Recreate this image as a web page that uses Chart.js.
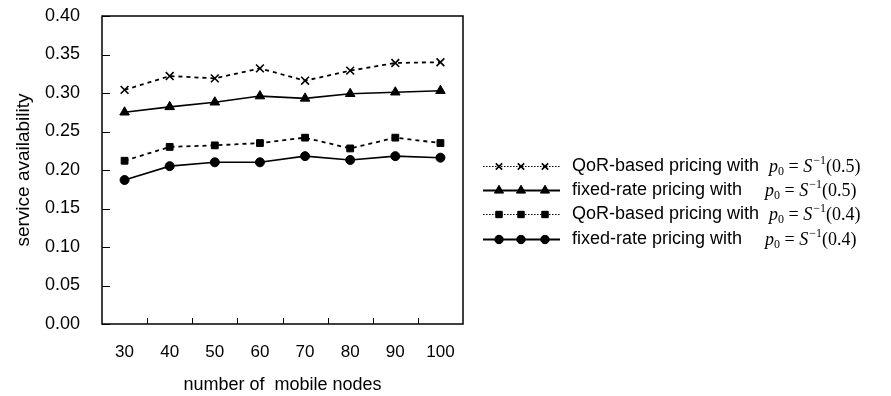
<!DOCTYPE html>
<html>
<head>
<meta charset="utf-8">
<script src="https://cdn.jsdelivr.net/npm/chart.js@4/dist/chart.umd.min.js"></script>
<style>
html,body{margin:0;padding:0;background:#fff;}
#wrap{position:relative;width:891px;height:396px;}
</style>
</head>
<body>
<div id="wrap"><canvas id="c" width="891" height="396"></canvas></div>
<script>
const categories = ['30','40','50','60','70','80','90','100'];
const qor05   = [0.304, 0.322, 0.319, 0.332, 0.316, 0.329, 0.339, 0.340];
const fixed05 = [0.275, 0.282, 0.288, 0.296, 0.293, 0.299, 0.301, 0.303];
const qor04   = [0.212, 0.230, 0.232, 0.235, 0.242, 0.228, 0.242, 0.235];
const fixed04 = [0.187, 0.205, 0.210, 0.210, 0.218, 0.213, 0.218, 0.216];
const seriesNames = ['QoR-based pricing with', 'fixed-rate pricing with', 'QoR-based pricing with', 'fixed-rate pricing with'];
const seriesParams = ['0.5', '0.5', '0.4', '0.4'];
const yTitle = 'service availability';
const xTitle = 'number of  mobile nodes';

const FONT = "'Liberation Sans', Arial, sans-serif";
const SERIF = "'Liberation Serif', 'Times New Roman', serif";

const mkDs = (label, data, dashed, style, radius) => ({
  label, data,
  borderColor: '#000', backgroundColor: '#000',
  borderWidth: dashed ? 1.8 : 1.6,
  borderDash: dashed ? [4, 4] : [],
  pointStyle: style, pointRadius: radius, pointHoverRadius: radius,
  pointBorderColor: '#000', pointBackgroundColor: '#000',
  pointBorderWidth: style === 'crossRot' ? 1.6 : 1,
  tension: 0, fill: false,
  legendDash: dashed
});

const datasets = [
  mkDs(seriesNames[0], qor05, true, 'crossRot', 5.5),
  mkDs(seriesNames[1], fixed05, false, 'triangle', 5.5),
  mkDs(seriesNames[2], qor04, true, 'rect', 4.8),
  mkDs(seriesNames[3], fixed04, false, 'circle', 4.5)
];

const framePlugin = {
  id: 'frame',
  afterDatasetsDraw(chart) {
    const ctx = chart.ctx, a = chart.chartArea;
    const ys = chart.scales.y, xs = chart.scales.x;
    ctx.save();
    ctx.strokeStyle = '#000';
    ctx.lineWidth = 1.5;
    ctx.setLineDash([]);
    ctx.strokeRect(a.left, a.top, a.right - a.left, a.bottom - a.top);
    ctx.lineWidth = 1;
    ctx.beginPath();
    ys.ticks.forEach(t => {
      const y = Math.round(ys.getPixelForValue(t.value)) + 0.5;
      ctx.moveTo(a.left, y); ctx.lineTo(a.left + 8, y);
    });
    for (let i = 1; i < categories.length; i++) {
      const x = Math.round((xs.getPixelForValue(i - 1) + xs.getPixelForValue(i)) / 2) + 0.5;
      ctx.moveTo(x, a.bottom); ctx.lineTo(x, a.bottom - 6);
    }
    ctx.stroke();
    ctx.restore();
  },
  afterDraw(chart) {
    const ctx = chart.ctx;
    const rowsY = [166, 190, 214, 239];
    const lineX0 = 483, lineX1 = 560, markX = [499, 521, 545];
    const textX = 572;
    ctx.save();
    chart.data.datasets.forEach((ds, i) => {
      const y = rowsY[i];
      ctx.strokeStyle = '#000';
      ctx.fillStyle = '#000';
      if (ds.legendDash) { ctx.lineWidth = 1; ctx.setLineDash([1.5, 1.5]); }
      else { ctx.lineWidth = 1.8; ctx.setLineDash([]); }
      ctx.beginPath(); ctx.moveTo(lineX0, y + 0.5); ctx.lineTo(lineX1, y + 0.5); ctx.stroke();
      ctx.setLineDash([]);
      markX.forEach(mx => {
        ctx.lineWidth = ds.pointBorderWidth;
        Chart.helpers.drawPoint(ctx, {pointStyle: ds.pointStyle, radius: ds.pointStyle === 'crossRot' ? 4.5 : ds.pointRadius - 0.3, borderWidth: ds.pointBorderWidth}, mx, y + 0.5);
        if (ds.pointStyle !== 'crossRot') ctx.fill();
      });
      ctx.font = '18px ' + FONT;
      ctx.textBaseline = 'middle';
      ctx.textAlign = 'left';
      ctx.fillText(ds.label, textX, y);
      const tw = ctx.measureText(ds.label).width;
      // math: p0 = S^-1(x)
      let x = Math.max(textX + tw + 10, 765);
      const base = y + 6;
      ctx.textBaseline = 'alphabetic';
      ctx.font = 'italic 18px ' + SERIF;
      ctx.fillText('p', x, base); x += ctx.measureText('p').width;
      ctx.font = '12px ' + SERIF;
      ctx.fillText('0', x, base + 3); x += ctx.measureText('0').width;
      ctx.font = '18px ' + SERIF;
      ctx.fillText(' = ', x, base); x += ctx.measureText(' = ').width;
      ctx.font = 'italic 18px ' + SERIF;
      ctx.fillText('S', x, base); x += ctx.measureText('S').width + 1;
      ctx.font = '12px ' + SERIF;
      ctx.fillText('\u22121', x, base - 8); x += ctx.measureText('\u22121').width;
      ctx.font = '18px ' + SERIF;
      ctx.fillText('(' + seriesParams[i] + ')', x, base);
    });
    ctx.restore();
  }
};

new Chart(document.getElementById('c'), {
  type: 'line',
  data: { labels: categories, datasets },
  options: {
    responsive: false,
    animation: false,
    layout: { autoPadding: false, padding: { left: 0, top: 16, right: 428, bottom: 0 } },
    plugins: { legend: { display: false }, tooltip: { enabled: false } },
    scales: {
      x: {
        type: 'category',
        offset: true,
        grid: { display: false, drawTicks: false },
        border: { display: false },
        ticks: { color: '#000', font: { family: FONT, size: 17 }, padding: 18, maxRotation: 0, autoSkip: false },
        title: { display: true, text: xTitle, color: '#000', font: { family: FONT, size: 18 }, padding: { top: 0, bottom: 0 } },
        afterFit(s) { s.height = 72; s.paddingLeft = 0; s.paddingRight = 0; }
      },
      y: {
        min: 0, max: 0.4,
        grid: { display: false, drawTicks: false },
        border: { display: false },
        ticks: { stepSize: 0.05, color: '#000', font: { family: FONT, size: 18 }, padding: 22,
          callback: v => Number(v).toFixed(2) },
        title: { display: true, text: yTitle, color: '#000', font: { family: FONT, size: 19 }, padding: { top: 12, bottom: 0 } },
        afterFit(s) { s.width = 102; s.paddingTop = 0; s.paddingBottom = 0; }
      }
    }
  },
  plugins: [framePlugin]
});
</script>
</body>
</html>
